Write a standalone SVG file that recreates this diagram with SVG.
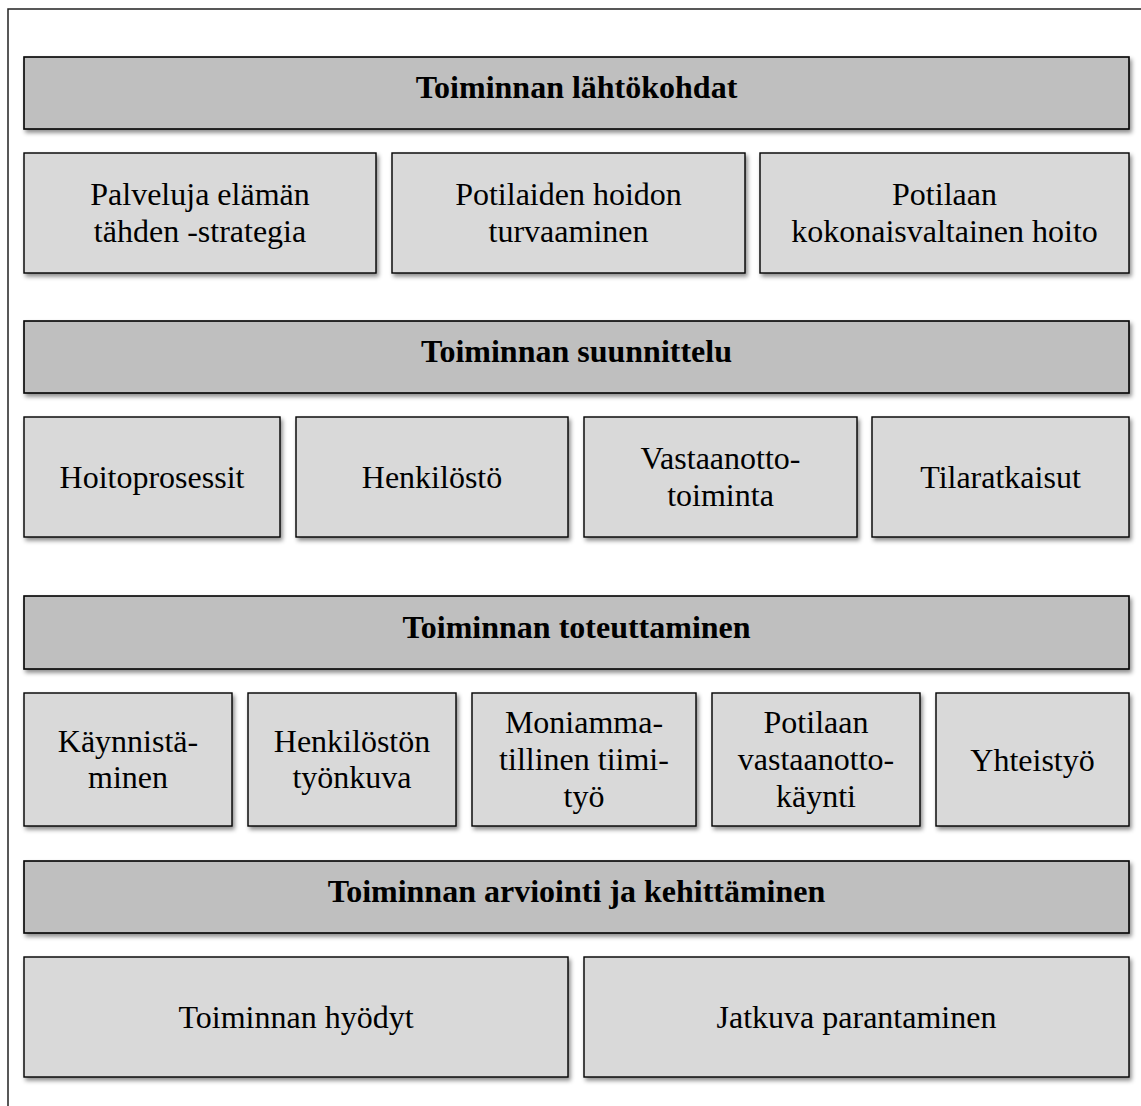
<svg xmlns="http://www.w3.org/2000/svg" width="1141" height="1106" viewBox="0 0 1141 1106">
<style>
.hdr{fill:#bfbfbf;stroke:#000;stroke-width:1.6;filter:url(#sh)}
.box{fill:#d9d9d9;stroke:#000;stroke-width:1.4;filter:url(#sh)}
.ht{font-family:"Liberation Serif","Times New Roman",serif;font-weight:bold;font-size:32px;text-anchor:middle;fill:#000}
.bt{font-family:"Liberation Serif","Times New Roman",serif;font-size:32px;text-anchor:middle;fill:#000}
</style>
<defs>
<filter id="sh" x="-5%" y="-10%" width="110%" height="130%">
<feDropShadow dx="2" dy="3" stdDeviation="2" flood-color="#000" flood-opacity="0.45"/>
</filter>
</defs>
<rect width="1141" height="1106" fill="#fff"/>
<path d="M8,1106 V9 H1141" fill="none" stroke="#222" stroke-width="1.5"/>
<g id="connectors"></g>

<g id="h1"><rect class="hdr" x="24" y="57" width="1105" height="72"/><text class="ht" x="576.5" y="98">Toiminnan lähtökohdat</text></g>
<g id="r1a"><rect class="box" x="24" y="153" width="352" height="120"/><text class="bt" x="200" y="205">Palveluja elämän</text><text class="bt" x="200" y="242">tähden -strategia</text></g>
<g id="r1b"><rect class="box" x="392" y="153" width="353" height="120"/><text class="bt" x="568.5" y="205">Potilaiden hoidon</text><text class="bt" x="568.5" y="242">turvaaminen</text></g>
<g id="r1c"><rect class="box" x="760" y="153" width="369" height="120"/><text class="bt" x="944.5" y="205">Potilaan</text><text class="bt" x="944.5" y="242">kokonaisvaltainen hoito</text></g>

<g id="h2"><rect class="hdr" x="24" y="321" width="1105" height="72"/><text class="ht" x="576.5" y="362">Toiminnan suunnittelu</text></g>
<g id="r2a"><rect class="box" x="24" y="417" width="256" height="120"/><text class="bt" x="152" y="488">Hoitoprosessit</text></g>
<g id="r2b"><rect class="box" x="296" y="417" width="272" height="120"/><text class="bt" x="432" y="488">Henkilöstö</text></g>
<g id="r2c"><rect class="box" x="584" y="417" width="273" height="120"/><text class="bt" x="720.5" y="469">Vastaanotto-</text><text class="bt" x="720.5" y="506">toiminta</text></g>
<g id="r2d"><rect class="box" x="872" y="417" width="257" height="120"/><text class="bt" x="1000.5" y="488">Tilaratkaisut</text></g>

<g id="h3"><rect class="hdr" x="24" y="596" width="1105" height="73"/><text class="ht" x="576.5" y="638">Toiminnan toteuttaminen</text></g>
<g id="r3a"><rect class="box" x="24" y="693" width="208" height="133"/><text class="bt" x="128" y="752">Käynnistä-</text><text class="bt" x="128" y="788">minen</text></g>
<g id="r3b"><rect class="box" x="248" y="693" width="208" height="133"/><text class="bt" x="352" y="752">Henkilöstön</text><text class="bt" x="352" y="788">työnkuva</text></g>
<g id="r3c"><rect class="box" x="472" y="693" width="224" height="133"/><text class="bt" x="584" y="733">Moniamma-</text><text class="bt" x="584" y="770">tillinen tiimi-</text><text class="bt" x="584" y="807">työ</text></g>
<g id="r3d"><rect class="box" x="712" y="693" width="208" height="133"/><text class="bt" x="816" y="733">Potilaan</text><text class="bt" x="816" y="770">vastaanotto-</text><text class="bt" x="816" y="807">käynti</text></g>
<g id="r3e"><rect class="box" x="936" y="693" width="193" height="133"/><text class="bt" x="1032.5" y="771">Yhteistyö</text></g>

<g id="h4"><rect class="hdr" x="24" y="861" width="1105" height="72"/><text class="ht" x="576.5" y="902">Toiminnan arviointi ja kehittäminen</text></g>
<g id="r4a"><rect class="box" x="24" y="957" width="544" height="120"/><text class="bt" x="296" y="1028">Toiminnan hyödyt</text></g>
<g id="r4b"><rect class="box" x="584" y="957" width="545" height="120"/><text class="bt" x="856.5" y="1028">Jatkuva parantaminen</text></g>
</svg>
